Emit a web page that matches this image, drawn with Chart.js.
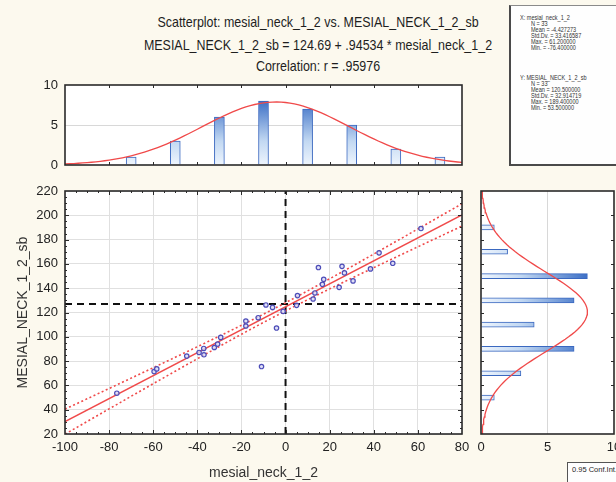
<!DOCTYPE html>
<html>
<head>
<meta charset="utf-8">
<script src="https://cdn.jsdelivr.net/npm/chart.js@4.4.1/dist/chart.umd.min.js"></script>
<style>
    html, body {
        margin: 0;
        padding: 0;
        width: 616px;
        height: 482px;
        overflow: hidden;
        background: #fcf9ee;
        font-family: "Liberation Sans", Arial, sans-serif;
        color: #1e1e1e;
    }
    canvas { position: absolute; }
    .title-line {
        position: absolute;
        left: 318px;
        font-size: 15px;
        line-height: 18px;
        white-space: nowrap;
        transform: translate(-50%, -50%) scaleX(0.83);
    }
    #statsBox {
        position: absolute;
        left: 509px;
        top: 5px;
        width: 130px;
        height: 158px;
        background: #fefefe;
        border: 1px solid #8a8a8a;
        border-left: 2px solid #4a4a4a;
        border-bottom: 2px solid #4a4a4a;
    }
    .stat-line {
        position: absolute;
        font-size: 6.3px;
        line-height: 7px;
        white-space: nowrap;
        color: #333;
        transform-origin: left center;
        transform: scaleX(0.88);
    }
    #confBox {
        position: absolute;
        left: 567px;
        top: 462px;
        width: 70px;
        height: 22px;
        background: #fefefe;
        border: 1px solid #555;
        font-size: 7.5px;
        line-height: 14px;
        padding-left: 4px;
        box-sizing: border-box;
    }
</style>
</head>
<body>
<div id="titles"></div>
<div id="statsBox"></div>
<div id="confBox">0.95 Conf.Int.</div>
<canvas id="topHist" width="480" height="115" style="left:0;top:70px"></canvas>
<canvas id="mainChart" width="480" height="312" style="left:0;top:170px"></canvas>
<canvas id="rightHist" width="170" height="312" style="left:470px;top:170px"></canvas>
<script>
/** --------------------DATA-------------------- */

const titleLines = [
    'Scatterplot: mesial_neck_1_2 vs. MESIAL_NECK_1_2_sb',
    'MESIAL_NECK_1_2_sb = 124.69 + .94534 * mesial_neck_1_2',
    'Correlation: r = .95976'
];

const xName = 'mesial_neck_1_2';
const yName = 'MESIAL_NECK_1_2_sb';

const xValues = [-76.5, -59.6, -58.4, -44.8, -39.2, -37.1, -37.0, -32.3, -30.8, -29.4, -18.0,
    -18.0, -12.4, -10.9, -8.9, -5.9, -4.1, -1.1, 5.0, 5.4, 12.5, 13.3, 14.9, 16.7, 17.3,
    24.3, 25.6, 26.7, 30.6, 38.5, 42.4, 48.6, 61.4];
const yValues = [53.6, 71.4, 73.6, 84.1, 87.1, 90.4, 85.2, 91.2, 94.0, 99.5, 113.0,
    108.9, 115.7, 75.5, 126.2, 124.2, 107.2, 120.9, 125.9, 133.9, 131.1, 136.1, 157.0, 143.2, 147.3,
    140.7, 158.0, 152.6, 146.0, 155.9, 169.1, 160.5, 189.1];

// regression from the title
const intercept = 124.69;
const slope = 0.94534;
const tCrit = 2.04;   // 0.95, df = 31

// dashed reference lines
const refX = 0;
const refY = 127;

// histograms (bin centres and counts)
const binWidth = 20;
const xBinCenters = [-70, -50, -30, -10, 10, 30, 50, 70];
const xBinCounts = [1, 3, 6, 8, 7, 5, 2, 1];
const yBinCenters = [50, 70, 90, 110, 130, 150, 170, 190];
const yBinCounts = [1, 3, 7, 4, 7, 8, 2, 1];

// summary box
const nObs = 33;
const meanX = -4.427273, sdX = 33.416587, maxX = 61.2, minX = -76.4;
const meanY = 120.5, sdY = 32.914719, maxY = 189.4, minY = 53.5;

/** --------------------TEXT-------------------- */

let titles = document.getElementById('titles');
let titleY = [22, 45, 66];
titleLines.forEach((t, i) => {
    let div = document.createElement('div');
    div.className = 'title-line';
    div.style.top = titleY[i] + 'px';
    div.textContent = t;
    titles.appendChild(div);
});

function fixed6(v) {
    return v.toFixed(6);
}

const statsLines = [
    {text: 'X:  ' + xName, x: 9, y: 11},
    {text: 'N = ' + nObs, x: 20, y: 17},
    {text: 'Mean = ' + fixed6(meanX), x: 20, y: 23},
    {text: 'Std.Dv. = ' + fixed6(sdX), x: 20, y: 29},
    {text: 'Max. = ' + fixed6(maxX), x: 20, y: 35},
    {text: 'Min. = ' + fixed6(minX), x: 20, y: 41},
    {text: 'Y:  ' + yName, x: 9, y: 71},
    {text: 'N = ' + nObs, x: 20, y: 77},
    {text: 'Mean = ' + fixed6(meanY), x: 20, y: 83},
    {text: 'Std.Dv. = ' + fixed6(sdY), x: 20, y: 89},
    {text: 'Max. = ' + fixed6(maxY), x: 20, y: 95},
    {text: 'Min. = ' + fixed6(minY), x: 20, y: 101}
];
let statsBox = document.getElementById('statsBox');
statsLines.forEach(l => {
    let div = document.createElement('div');
    div.className = 'stat-line';
    div.style.left = l.x + 'px';
    div.style.top = (l.y - 3.5) + 'px';
    div.textContent = l.text;
    statsBox.appendChild(div);
});

/** --------------------DERIVED SERIES-------------------- */

const points = xValues.map((x, i) => ({x: x, y: yValues[i]}));

function fitAt(x) {
    return intercept + slope * x;
}

// confidence band of the fit, from the data
let xm = xValues.reduce((a, b) => a + b, 0) / xValues.length;
let sxx = xValues.reduce((a, x) => a + (x - xm) * (x - xm), 0);
let sse = xValues.reduce((a, x, i) => a + Math.pow(yValues[i] - fitAt(x), 2), 0);
let sRes = Math.sqrt(sse / (xValues.length - 2));

function halfWidth(x) {
    return tCrit * sRes * Math.sqrt(1 / xValues.length + (x - xm) * (x - xm) / sxx);
}

let fitLine = [{x: -100, y: fitAt(-100)}, {x: 80, y: fitAt(80)}];
let ciUpper = [];
let ciLower = [];
for (let x = -100; x <= 80; x += 2) {
    ciUpper.push({x: x, y: fitAt(x) + halfWidth(x)});
    ciLower.push({x: x, y: fitAt(x) - halfWidth(x)});
}

// fitted normal curves over the histograms
function normalCount(v, mean, sd) {
    let z = (v - mean) / sd;
    return nObs * binWidth / (sd * Math.sqrt(2 * Math.PI)) * Math.exp(-z * z / 2);
}
let normalX = [];
for (let x = -100; x <= 80; x += 2) {
    normalX.push({x: x, y: normalCount(x, meanX, sdX)});
}
let normalY = [];
for (let y = 20; y <= 220; y += 2) {
    normalY.push({x: normalCount(y, meanY, sdY), y: y});
}

/** --------------------CHARTS-------------------- */

Chart.defaults.font.family = '"Liberation Sans", Arial, sans-serif';
Chart.defaults.color = '#222';

function tickList(min, max, minor, major, longLen, shortLen) {
    let list = [];
    for (let v = min + minor; v < max; v += minor) {
        list.push({v: v, len: (Math.abs(v % major) < 1e-6) ? longLen : shortLen});
    }
    return list;
}

const frameTicks = {
    id: 'frameTicks',
    beforeDraw(chart) {
        const {ctx, chartArea: a} = chart;
        ctx.save();
        ctx.fillStyle = '#ffffff';
        ctx.fillRect(a.left, a.top, a.right - a.left, a.bottom - a.top);
        ctx.restore();
    },
    afterDraw(chart, args, opts) {
        const {ctx, chartArea: a, scales} = chart;
        ctx.save();
        ctx.strokeStyle = '#2a2a2a';
        ctx.lineWidth = 1;
        ctx.beginPath();
        (opts.xTicks || []).forEach(t => {
            let px = Math.round(scales.x.getPixelForValue(t.v)) + 0.5;
            ctx.moveTo(px, a.bottom);
            ctx.lineTo(px, a.bottom - t.len);
            ctx.moveTo(px, a.top);
            ctx.lineTo(px, a.top + t.len);
        });
        (opts.yTicks || []).forEach(t => {
            let py = Math.round(scales.y.getPixelForValue(t.v)) + 0.5;
            ctx.moveTo(a.left, py);
            ctx.lineTo(a.left + t.len, py);
            ctx.moveTo(a.right, py);
            ctx.lineTo(a.right - t.len, py);
        });
        ctx.stroke();
        ctx.lineWidth = 1.6;
        ctx.strokeRect(a.left, a.top, a.right - a.left, a.bottom - a.top);
        ctx.restore();
    }
};

// nudge layout padding until the plot area sits where we want it (canvas px)
function placeArea(chart, want) {
    for (let k = 0; k < 3; k++) {
        let a = chart.chartArea;
        let p = chart.options.layout.padding;
        p.top = Math.max(0, p.top + (want.top - a.top));
        p.bottom = Math.max(0, p.bottom + (a.bottom - want.bottom));
        p.right = Math.max(0, p.right + (a.right - want.right));
        chart.update();
    }
}

function barGradient(horizontal) {
    return function (context) {
        const {ctx, chartArea} = context.chart;
        if (!chartArea) {
            return '#8fb3e6';
        }
        let g = horizontal
            ? ctx.createLinearGradient(chartArea.left, 0, chartArea.right, 0)
            : ctx.createLinearGradient(0, chartArea.bottom, 0, chartArea.top);
        g.addColorStop(0, '#eef5fd');
        g.addColorStop(0.3, '#c2d8f2');
        g.addColorStop(0.8, '#3d70c6');
        g.addColorStop(1, '#2d5cb0');
        return g;
    };
}

const lineRed = '#f04a4a';

let mainChart = new Chart(document.getElementById('mainChart'), {
    type: 'scatter',
    data: {
        datasets: [
            {
                label: 'points',
                data: points,
                pointRadius: 2.2,
                pointBorderWidth: 1.2,
                borderColor: '#4d4db8',
                backgroundColor: 'rgba(215,215,245,0.8)'
            },
            {
                label: 'fit',
                data: fitLine,
                showLine: true,
                pointRadius: 0,
                borderColor: lineRed,
                borderWidth: 1.5
            },
            {
                label: 'upper',
                data: ciUpper,
                showLine: true,
                pointRadius: 0,
                borderColor: lineRed,
                borderWidth: 1.6,
                borderDash: [2, 2.5]
            },
            {
                label: 'lower',
                data: ciLower,
                showLine: true,
                pointRadius: 0,
                borderColor: lineRed,
                borderWidth: 1.6,
                borderDash: [2, 2.5]
            },
            {
                label: 'refX',
                data: [{x: refX, y: 20}, {x: refX, y: 220}],
                showLine: true,
                pointRadius: 0,
                borderColor: '#111',
                borderWidth: 2,
                borderDash: [7, 5]
            },
            {
                label: 'refY',
                data: [{x: -100, y: refY}, {x: 80, y: refY}],
                showLine: true,
                pointRadius: 0,
                borderColor: '#111',
                borderWidth: 2,
                borderDash: [7, 5]
            }
        ]
    },
    options: {
        responsive: false,
        animation: false,
        layout: {padding: {top: 21, right: 11, left: 0, bottom: 0}},
        plugins: {
            legend: {display: false},
            tooltip: {enabled: false},
            frameTicks: {
                xTicks: tickList(-100, 80, 5, 20, 4, 2),
                yTicks: tickList(20, 220, 5, 20, 4, 2)
            }
        },
        scales: {
            x: {
                type: 'linear',
                min: -100,
                max: 80,
                ticks: {stepSize: 20, padding: 6, font: {size: 13}},
                grid: {color: '#e0e0e0', drawTicks: false},
                border: {display: false},
                title: {display: true, text: xName, font: {size: 14}, color: '#333', padding: {top: 2, bottom: 0}},
                afterFit(s) {
                    s.height = 48;
                }
            },
            y: {
                type: 'linear',
                min: 20,
                max: 220,
                ticks: {stepSize: 20, padding: 7, font: {size: 13}},
                grid: {color: '#e0e0e0', drawTicks: false},
                border: {display: false},
                title: {display: true, text: yName, font: {size: 14}, color: '#333', padding: {top: 15, bottom: 0}},
                afterFit(s) {
                    s.width = 65;
                }
            }
        }
    },
    plugins: [frameTicks]
});
placeArea(mainChart, {top: 21, bottom: 264, right: 462});

let topHist = new Chart(document.getElementById('topHist'), {
    type: 'bar',
    data: {
        datasets: [
            {
                type: 'line',
                data: normalX,
                borderColor: lineRed,
                borderWidth: 1.3,
                pointRadius: 0
            },
            {
                data: xBinCenters.map((c, i) => ({x: c, y: xBinCounts[i]})),
                barThickness: 10,
                backgroundColor: barGradient(false),
                borderColor: '#3a68c0',
                borderWidth: 1
            }
        ]
    },
    options: {
        responsive: false,
        animation: false,
        layout: {padding: {top: 15, right: 11, left: 0, bottom: 0}},
        plugins: {
            legend: {display: false},
            tooltip: {enabled: false},
            frameTicks: {
                xTicks: tickList(-100, 80, 20, 20, 3, 3)
            }
        },
        scales: {
            x: {
                type: 'linear',
                min: -100,
                max: 80,
                offset: false,
                ticks: {display: false},
                grid: {display: false},
                border: {display: false},
                afterFit(s) {
                    s.height = 20;
                }
            },
            y: {
                min: 0,
                max: 10,
                ticks: {stepSize: 5, padding: 7, font: {size: 13}},
                grid: {
                    color: (c) => c.tick && c.tick.value === 5 ? '#d8d8d8' : 'rgba(0,0,0,0)',
                    drawTicks: false
                },
                border: {display: false},
                afterFit(s) {
                    s.width = 65;
                }
            }
        }
    },
    plugins: [frameTicks]
});
placeArea(topHist, {top: 15, bottom: 95, right: 462});

let rightHist = new Chart(document.getElementById('rightHist'), {
    type: 'bar',
    data: {
        datasets: [
            {
                type: 'line',
                data: normalY,
                borderColor: lineRed,
                borderWidth: 1.3,
                pointRadius: 0
            },
            {
                data: yBinCenters.map((c, i) => ({x: yBinCounts[i], y: c})),
                barThickness: 5,
                backgroundColor: barGradient(true),
                borderColor: '#3a68c0',
                borderWidth: 1
            }
        ]
    },
    options: {
        indexAxis: 'y',
        responsive: false,
        animation: false,
        layout: {padding: {top: 21, right: 19, left: 0, bottom: 0}},
        plugins: {
            legend: {display: false},
            tooltip: {enabled: false},
            frameTicks: {
                yTicks: tickList(20, 220, 20, 20, 3, 3)
            }
        },
        scales: {
            x: {
                type: 'linear',
                min: 0,
                max: 10,
                ticks: {stepSize: 5, padding: 6, font: {size: 13}},
                grid: {
                    color: (c) => c.tick && c.tick.value === 5 ? '#d8d8d8' : 'rgba(0,0,0,0)',
                    drawTicks: false
                },
                border: {display: false},
                afterFit(s) {
                    s.height = 48;
                }
            },
            y: {
                type: 'linear',
                min: 20,
                max: 220,
                offset: false,
                ticks: {display: false},
                grid: {display: false},
                border: {display: false},
                afterFit(s) {
                    s.width = 11;
                }
            }
        }
    },
    plugins: [frameTicks]
});
placeArea(rightHist, {top: 21, bottom: 264, right: 144});
</script>
</body>
</html>
